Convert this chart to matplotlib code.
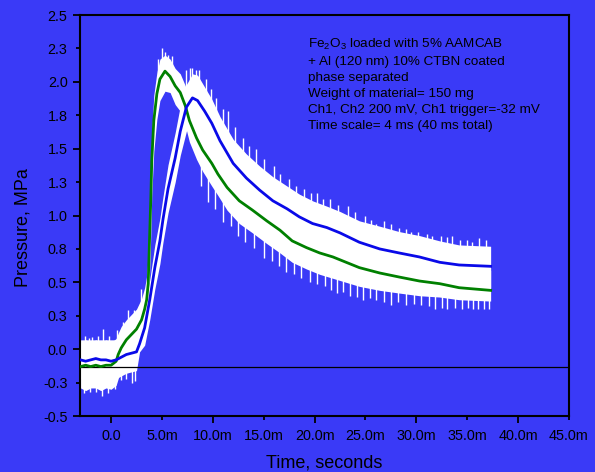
import matplotlib

matplotlib.use("Agg")
import matplotlib.pyplot as plt
import numpy as np

# time axis in milliseconds, pressure in MPa
# channel 1 (green, smoothed) with the raw-trace envelope around it
ch1_t = [-3.0, -2.5, -2.0, -1.5, -1.0, -0.5, 0.0, 0.5, 0.7, 1.0, 1.5, 2.0, 2.5, 3.0,
         3.3, 3.5, 3.65, 3.8, 3.9, 4.0, 4.2, 4.5, 4.8, 5.3, 5.8, 6.3, 6.8, 7.3, 7.7,
         8.4, 9.0, 9.9, 10.5, 11.4, 12.6, 13.9, 15.3, 16.6, 17.8, 19.2, 20.5, 21.8,
         23.1, 24.4, 26.4, 28.3, 30.3, 32.3, 34.2, 37.3]
ch1_v = [-0.13, -0.12, -0.13, -0.12, -0.13, -0.12, -0.12, -0.09, -0.04, 0.01, 0.07,
         0.11, 0.15, 0.22, 0.30, 0.37, 0.49, 0.87, 1.11, 1.41, 1.71, 1.91, 2.02, 2.08,
         2.04, 1.97, 1.92, 1.82, 1.71, 1.58, 1.49, 1.39, 1.31, 1.21, 1.11, 1.04, 0.96,
         0.89, 0.81, 0.76, 0.72, 0.69, 0.65, 0.61, 0.57, 0.54, 0.51, 0.49, 0.46, 0.44]
ch1_hi = [0.05, 0.07, 0.05, 0.07, 0.05, 0.07, 0.05, 0.08, 0.12, 0.17, 0.22, 0.26, 0.30,
          0.38, 0.46, 0.55, 0.70, 1.10, 1.35, 1.62, 1.90, 2.07, 2.17, 2.20, 2.17, 2.10,
          2.06, 1.97, 1.87, 1.73, 1.64, 1.54, 1.46, 1.36, 1.26, 1.19, 1.11, 1.04, 0.96,
          0.91, 0.87, 0.84, 0.80, 0.76, 0.72, 0.69, 0.66, 0.64, 0.61, 0.59]
ch1_lo = [-0.29, -0.31, -0.29, -0.29, -0.31, -0.29, -0.30, -0.27, -0.22, -0.16, -0.10,
          -0.06, -0.02, 0.06, 0.14, 0.20, 0.30, 0.60, 0.85, 1.15, 1.48, 1.72, 1.86, 1.93,
          1.92, 1.83, 1.78, 1.67, 1.55, 1.42, 1.33, 1.22, 1.15, 1.04, 0.94, 0.87, 0.79,
          0.72, 0.65, 0.60, 0.56, 0.53, 0.50, 0.47, 0.44, 0.42, 0.40, 0.39, 0.37, 0.36]

# channel 2 (blue, smoothed) with its raw-trace envelope
ch2_t = [-3.0, -2.5, -2.0, -1.5, -1.0, -0.5, 0.0, 0.5, 1.0, 1.5, 2.0, 2.5, 2.8, 3.3,
         3.8, 4.3, 4.8, 5.1, 5.6, 6.3, 6.8, 7.4, 8.0, 8.5, 9.2, 9.9, 10.7, 12.0, 13.3,
         14.6, 15.9, 17.3, 18.5, 19.8, 21.2, 22.5, 24.4, 26.4, 28.3, 30.3, 32.3, 34.2,
         37.3]
ch2_v = [-0.08, -0.09, -0.08, -0.07, -0.08, -0.08, -0.09, -0.08, -0.06, -0.04, -0.03,
         -0.02, 0.04, 0.16, 0.37, 0.61, 0.81, 0.97, 1.20, 1.43, 1.63, 1.81, 1.88, 1.86,
         1.78, 1.69, 1.56, 1.39, 1.28, 1.19, 1.11, 1.05, 0.99, 0.94, 0.91, 0.87, 0.80,
         0.75, 0.72, 0.69, 0.65, 0.63, 0.62]
ch2_hi = [0.07, 0.07, 0.07, 0.07, 0.07, 0.07, 0.07, 0.07, 0.09, 0.10, 0.11, 0.12, 0.16,
          0.30, 0.52, 0.78, 0.98, 1.14, 1.38, 1.62, 1.82, 1.98, 2.06, 2.05, 1.96, 1.87,
          1.74, 1.57, 1.46, 1.37, 1.29, 1.22, 1.16, 1.11, 1.07, 1.03, 0.96, 0.92, 0.88,
          0.85, 0.81, 0.78, 0.77]
ch2_lo = [-0.22, -0.23, -0.22, -0.21, -0.22, -0.22, -0.23, -0.22, -0.20, -0.18, -0.17,
          -0.16, -0.02, 0.03, 0.22, 0.45, 0.64, 0.80, 1.02, 1.25, 1.45, 1.63, 1.71, 1.70,
          1.60, 1.51, 1.38, 1.22, 1.11, 1.02, 0.94, 0.88, 0.82, 0.77, 0.74, 0.70, 0.64,
          0.59, 0.56, 0.53, 0.50, 0.48, 0.46]

# isolated noise spikes of the raw traces (tips above / below the bands)
spike_up_t = [-2.6, -2.2, -1.9, -1.3, -0.8, -0.2, 0.6, 1.2, 1.7, 2.3, 2.9, 4.6, 5.0,
              5.3, 5.6, 6.0, 7.4, 7.8, 8.0, 8.3, 8.6, 9.3, 9.8, 10.3, 11.0, 11.5, 12.2,
              13.0, 13.6, 14.2, 15.0, 16.0, 16.6, 17.5, 18.2, 19.0, 19.6, 20.2, 20.8,
              21.5, 22.3, 23.3, 24.0, 25.0, 25.5, 26.0, 26.8, 27.5, 28.3, 29.0, 29.5,
              30.2, 31.0, 31.5, 32.4, 33.0, 33.5, 34.3, 35.0, 35.5, 36.2, 36.8]
spike_up_v = [0.10, 0.08, 0.09, 0.10, 0.15, 0.10, 0.14, 0.20, 0.29, 0.29, 0.45, 2.17,
              2.25, 2.22, 2.20, 2.19, 2.09, 2.10, 2.10, 2.09, 2.09, 2.02, 1.95, 1.88,
              1.80, 1.78, 1.66, 1.58, 1.52, 1.50, 1.42, 1.37, 1.31, 1.27, 1.22, 1.20,
              1.17, 1.17, 1.12, 1.12, 1.08, 1.07, 1.03, 1.00, 0.97, 0.94, 0.96, 0.94,
              0.91, 0.90, 0.88, 0.88, 0.86, 0.85, 0.85, 0.84, 0.85, 0.82, 0.82, 0.80,
              0.83, 0.82]
spike_dn_t = [-2.7, -2.1, -1.5, -0.9, -0.3, 0.4, 1.0, 1.5, 2.1, 2.4, 8.8, 9.5, 10.2,
              11.0, 11.8, 12.5, 13.2, 14.0, 15.0, 15.8, 16.5, 17.2, 18.0, 18.7, 19.5,
              20.2, 21.0, 21.6, 22.2, 22.8, 23.5, 24.2, 24.8, 25.4, 26.0, 26.8, 27.5,
              28.2, 29.0, 29.8, 30.5, 31.2, 31.8, 32.5, 33.0, 33.8, 34.5, 35.1, 35.6,
              36.1, 36.6, 37.1]
spike_dn_v = [-0.33, -0.32, -0.32, -0.35, -0.33, -0.30, -0.23, -0.22, -0.25, -0.24,
              1.22, 1.10, 1.05, 0.95, 0.92, 0.85, 0.80, 0.76, 0.68, 0.66, 0.62, 0.58,
              0.56, 0.53, 0.50, 0.49, 0.47, 0.44, 0.42, 0.43, 0.40, 0.39, 0.37, 0.38,
              0.37, 0.35, 0.33, 0.35, 0.33, 0.34, 0.33, 0.32, 0.30, 0.31, 0.30, 0.31,
              0.30, 0.31, 0.30, 0.30, 0.30, 0.30]

baseline_level = -0.13

x_major = [0, 10, 20, 30, 40]
x_major_labels = ["0.0", "10.0m", "20.0m", "30.0m", "40.0m"]
x_minor = [5, 15, 25, 35, 45]
x_minor_labels = ["5.0m", "15.0m", "25.0m", "35.0m", "45.0m"]
y_major = [-0.5, 0.0, 0.5, 1.0, 1.5, 2.0, 2.5]
y_major_labels = ["-0.5", "0.0", "0.5", "1.0", "1.5", "2.0", "2.5"]
y_minor = [-0.25, 0.25, 0.75, 1.25, 1.75, 2.25]
y_minor_labels = ["-0.3", "0.3", "0.8", "1.3", "1.8", "2.3"]

note = ("Fe$_2$O$_3$ loaded with 5% AAMCAB\n"
        "+ Al (120 nm) 10% CTBN coated\n"
        "phase separated\n"
        "Weight of material= 150 mg\n"
        "Ch1, Ch2 200 mV, Ch1 trigger=-32 mV\n"
        "Time scale= 4 ms (40 ms total)")

BG = "#3a3af7"
plt.rcParams.update({
    "font.family": ["Liberation Sans", "DejaVu Sans"],
    "mathtext.default": "regular",
    "text.color": "black",
})

fig = plt.figure(figsize=(5.95, 4.72), dpi=100, facecolor=BG)
ax = fig.add_axes([0.1345, 0.1186, 0.8218, 0.8496])
ax.set_facecolor(BG)

# raw traces: white bands, spikes start just inside the band edge
ax.fill_between(ch1_t, ch1_lo, ch1_hi, color="white", lw=0, zorder=1)
ax.fill_between(ch2_t, ch2_lo, ch2_hi, color="white", lw=0, zorder=1)
band_top = np.maximum(np.interp(spike_up_t, ch1_t, ch1_hi), np.interp(spike_up_t, ch2_t, ch2_hi))
band_bot = np.minimum(np.interp(spike_dn_t, ch1_t, ch1_lo), np.interp(spike_dn_t, ch2_t, ch2_lo))
ax.vlines(spike_up_t, band_top - 0.03, spike_up_v, color="white", lw=1.0, zorder=1)
ax.vlines(spike_dn_t, spike_dn_v, band_bot + 0.03, color="white", lw=1.0, zorder=1)

ax.axhline(baseline_level, color="black", lw=0.9, zorder=2)

ax.plot(ch1_t, ch1_v, color="#008000", lw=2.0, zorder=3)
ax.plot(ch2_t, ch2_v, color="#0a0ae8", lw=2.0, zorder=4)

ax.set_xlim(-3.05, 45)
ax.set_ylim(-0.5, 2.5)

ax.set_xticks(x_major)
ax.set_xticklabels(x_major_labels)
ax.set_xticks(x_minor, minor=True)
ax.set_xticklabels(x_minor_labels, minor=True)
ax.set_yticks(y_major)
ax.set_yticklabels(y_major_labels)
ax.set_yticks(y_minor, minor=True)
ax.set_yticklabels(y_minor_labels, minor=True)
ax.tick_params(which="both", direction="out", width=1.3, labelsize=10.4,
               colors="black", top=False, right=False)
ax.tick_params(which="major", length=5, pad=4)
ax.tick_params(which="minor", length=2.9, pad=6.1)

for spine in ax.spines.values():
    spine.set_linewidth(1.5)
    spine.set_color("black")

ax.set_xlabel("Time, seconds", fontsize=13)
ax.set_ylabel("Pressure, MPa", fontsize=13)
ax.xaxis.set_label_coords(0.5, -0.097)
ax.yaxis.set_label_coords(-0.100, 0.47)

ax.text(0.466, 0.945, note, transform=ax.transAxes, ha="left", va="top",
        fontsize=9.7, linespacing=1.45)

fig.savefig("out.png", dpi=100, facecolor=BG)
